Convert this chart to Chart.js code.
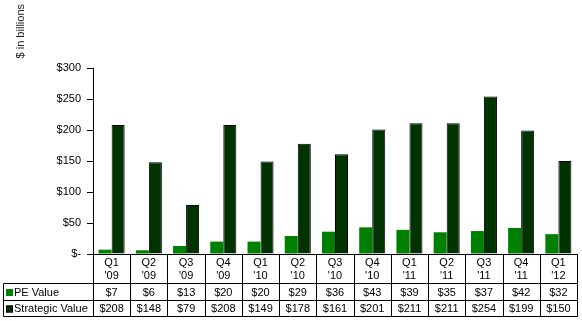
<!DOCTYPE html>
<html><head><meta charset="utf-8">
<script src="https://cdn.jsdelivr.net/npm/chart.js@4/dist/chart.umd.min.js"></script>
<style>html,body{margin:0;padding:0;background:#fff;}#wrap{width:582px;height:321px;position:relative;}</style>
</head><body><div id="wrap"><canvas id="c" width="582" height="321"></canvas></div>
<script>
const quarters = ["Q1","Q2","Q3","Q4","Q1","Q2","Q3","Q4","Q1","Q2","Q3","Q4","Q1"];
const years = ["'09","'09","'09","'09","'10","'10","'10","'10","'11","'11","'11","'11","'12"];
const peValue = [7,6,13,20,20,29,36,43,39,35,37,42,32];
const strategicValue = [208,148,79,208,149,178,161,201,211,211,254,199,150];
const seriesNames = ["PE Value","Strategic Value"];
const yTicks = [0,50,100,150,200,250,300];
const yTitle = "$ in billions";

const FONT = "'Liberation Sans', Arial, sans-serif";
const labels = quarters.map((q,i)=>[q, years[i]]);
const PE_COLOR = '#008000', ST_COLOR = '#003300';

const tablePlugin = {
  id:'table',
  afterDraw(chart){
    const ctx = chart.ctx, ca = chart.chartArea, xs = chart.scales.x;
    const n = labels.length;
    const w = ca.width / n;
    const rowTop = ca.bottom, r1 = 283.5, r2 = 300.5, r3 = 316.5, leftX = 3.5;
    ctx.save();
    ctx.strokeStyle = '#000'; ctx.lineWidth = 1;
    ctx.beginPath();
    for(let i=0;i<=n;i++){
      const x = Math.round(ca.left + i*w) + 0.5;
      ctx.moveTo(x, rowTop); ctx.lineTo(x, r3);
    }
    [r1,r2,r3].forEach(y=>{ctx.moveTo(leftX,y);ctx.lineTo(Math.round(ca.right)+0.5,y);});
    ctx.moveTo(leftX,r1); ctx.lineTo(leftX,r3);
    ctx.stroke();
    ctx.font = '11px ' + FONT;
    ctx.fillStyle = '#000'; ctx.textAlign='center'; ctx.textBaseline='middle';
    const rows = [peValue, strategicValue];
    const ys = [(r1+r2)/2, (r2+r3)/2];
    rows.forEach((arr,ri)=>{
      arr.forEach((v,i)=>{
        ctx.fillText('$'+v, xs.getPixelForValue(i), ys[ri]+0.5);
      });
    });
    // legend cells
    ctx.textAlign='left';
    const cols=[PE_COLOR, ST_COLOR];
    seriesNames.forEach((s,ri)=>{
      ctx.fillStyle = cols[ri];
      ctx.fillRect(6, ys[ri]-3, 7, 7);
      if(ri===1){ctx.strokeStyle='#000';ctx.strokeRect(6.5, ys[ri]-2.5, 6, 6);}
      ctx.fillStyle='#000';
      ctx.fillText(s, 14, ys[ri]+0.5);
    });
    // y title
    ctx.save();
    ctx.translate(21, 4);
    ctx.rotate(-Math.PI/2);
    ctx.textAlign='right'; ctx.textBaseline='middle';
    ctx.fillStyle='#222';
    ctx.fillText(yTitle, 0, 0);
    ctx.restore();
    ctx.restore();
  }
};

new Chart(document.getElementById('c'), {
  type:'bar',
  data:{
    labels: labels,
    datasets:[
      {label:seriesNames[0], data:peValue, backgroundColor:PE_COLOR, borderColor:PE_COLOR, borderWidth:0, categoryPercentage:0.7, barPercentage:1.0},
      {label:seriesNames[1], data:strategicValue, backgroundColor:ST_COLOR, borderColor:'#000', borderWidth:1, categoryPercentage:0.7, barPercentage:1.0}
    ]
  },
  options:{
    responsive:false, animation:false,
    layout:{padding:{top:68,right:5,bottom:5,left:0}},
    plugins:{legend:{display:false}, tooltip:{enabled:false}},
    scales:{
      x:{
        offset:true,
        grid:{display:false,drawTicks:false,tickLength:0},
        border:{display:true,color:'#000',width:1},
        ticks:{font:{family:FONT,size:11,lineHeight:1.15},color:'#000',padding:3,maxRotation:0,autoSkip:false},
        afterFit(s){s.height=62;}
      },
      y:{
        min:0,max:300,
        afterBuildTicks(s){s.ticks = yTicks.map(v=>({value:v}));},
        grid:{drawOnChartArea:false,drawTicks:true,tickLength:6,color:'#000'},
        border:{display:true,color:'#000',width:1},
        ticks:{font:{family:FONT,size:11},color:'#000',padding:6,
          callback:v=> v===0 ? '$-' : '$'+v},
        afterFit(s){s.width=93;}
      }
    }
  },
  plugins:[tablePlugin]
});
</script></body></html>
